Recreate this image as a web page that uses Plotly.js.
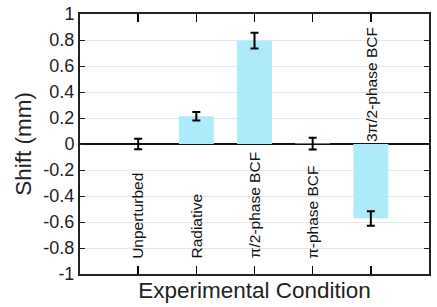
<!DOCTYPE html>
<html><head><meta charset="utf-8">
<script src="https://cdn.plot.ly/plotly-3.0.1.min.js"></script>
<style>html,body{margin:0;padding:0;background:#fff}#chart{width:437px;height:307px}</style>
</head><body><div id="chart"></div>
<script>
const categories = ["Unperturbed", "Radiative", "\u03c0/2-phase BCF", "\u03c0-phase BCF", "3\u03c0/2-phase BCF"];
const shiftMm = [0.0, 0.213, 0.795, 0.003, -0.573];
const shiftErr = [0.04, 0.033, 0.06, 0.046, 0.055];
const yTickVals = [1, 0.8, 0.6, 0.4, 0.2, 0, -0.2, -0.4, -0.6, -0.8, -1];
const yTickText = ["1", "0.8", "0.6", "0.4", "0.2", "0", "-0.2", "-0.4", "-0.6", "-0.8", "-1"];

const xPos = categories.map((c, i) => i + 1);
const font = "Liberation Sans, Arial, sans-serif";

const trace = {
  type: "bar",
  x: xPos,
  y: shiftMm,
  width: 0.6,
  marker: {color: "#ADEBFB", line: {width: 0}},
  error_y: {type: "data", array: shiftErr, visible: true, color: "#000", thickness: 2, width: 4},
  hoverinfo: "skip"
};

const annotations = categories.map((c, i) => ({
  x: xPos[i],
  y: shiftMm[i] < 0 ? 0.01 : -0.89,
  xref: "x", yref: "y",
  text: c,
  textangle: -90,
  showarrow: false,
  xanchor: "center",
  yanchor: "bottom",
  borderpad: 0,
  font: {family: font, size: 15.5, color: "#111"}
}));

const layout = {
  width: 437, height: 307,
  margin: {l: 80, r: 8, t: 14, b: 33},
  paper_bgcolor: "#fff", plot_bgcolor: "#fff",
  showlegend: false,
  bargap: 0.4,
  xaxis: {
    range: [0, 6],
    tickvals: xPos,
    showticklabels: false,
    ticks: "inside", ticklen: 8, tickwidth: 1.5, tickcolor: "#000",
    showline: true, linecolor: "#222", linewidth: 2, mirror: "ticks",
    showgrid: false, zeroline: false,
    title: {text: "Experimental Condition", font: {family: font, size: 22.5, color: "#222"}, standoff: 7},
    automargin: false
  },
  yaxis: {
    range: [-1, 1],
    tickvals: yTickVals, ticktext: yTickText,
    ticks: "inside", ticklen: 5, tickwidth: 1, tickcolor: "#222",
    showline: true, linecolor: "#222", linewidth: 2, mirror: "ticks",
    showgrid: true, gridcolor: "#e6e6e6", gridwidth: 1,
    zeroline: true, zerolinecolor: "#111", zerolinewidth: 2,
    tickfont: {family: font, size: 18, color: "#222"},
    title: {text: "Shift (mm)", font: {family: font, size: 22.5, color: "#222"}, standoff: 5},
    automargin: false
  },
  annotations: annotations
};

Plotly.newPlot("chart", [trace], layout, {displayModeBar: false, staticPlot: true});
</script></body></html>
